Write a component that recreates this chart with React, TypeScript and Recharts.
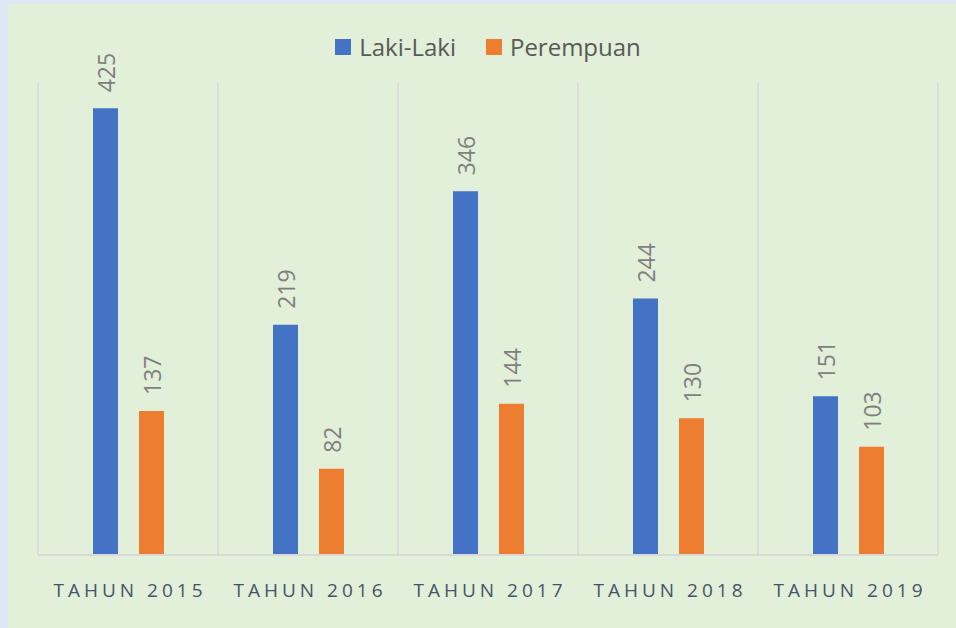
import { BarChart, Bar, XAxis, YAxis, CartesianGrid, LabelList } from 'recharts';

const categories = ['TAHUN 2015', 'TAHUN 2016', 'TAHUN 2017', 'TAHUN 2018', 'TAHUN 2019'];
const lakiLaki = [425, 219, 346, 244, 151];
const perempuan = [137, 82, 144, 130, 103];
const gridTicks = [0, 1, 2, 3, 4, 5];

const series = [
  { key: 'laki', name: 'Laki-Laki', color: '#4472c4' },
  { key: 'perempuan', name: 'Perempuan', color: '#ed7d31' },
];

const data = categories.map((name, i) => ({
  name,
  idx: i + 0.5,
  laki: lakiLaki[i],
  perempuan: perempuan[i],
}));

const FONT = '"Open Sans", "Noto Sans", sans-serif';

const RotatedLabel = (props: any) => {
  const { x, y, width, value } = props;
  return (
    <text
      x={0}
      y={0}
      transform={`translate(${x + width / 2}, ${y - 16}) rotate(-90)`}
      textAnchor="start"
      dominantBaseline="central"
      fill="#7f7f7f"
      fontSize={23}
      fontFamily={FONT}
    >
      {value}
    </text>
  );
};

const CategoryTick = (props: any) => {
  const { x, y, payload } = props;
  return (
    <text
      x={x + 2}
      y={y + 34}
      textAnchor="middle"
      fill="#44546a"
      fontSize={19}
      fontFamily={FONT}
      letterSpacing={4}
    >
      {payload.value}
    </text>
  );
};

export default function App() {
  return (
    <div style={{ position: 'fixed', left: 0, top: 0, width: 956, height: 628, background: '#dde8f4', overflow: 'hidden' }}>
      <div style={{ position: 'absolute', left: 8, top: 4, width: 948, height: 624, background: '#e2efd9' }}>
        {/* legend */}
        <div
          style={{
            position: 'absolute', top: 26, left: 0, width: 948,
            display: 'flex', justifyContent: 'center', gap: 30, fontFamily: FONT, paddingLeft: 12, boxSizing: 'border-box',
          }}
        >
          {series.map(s => (
            <div key={s.key} style={{ display: 'flex', alignItems: 'center', gap: 8 }}>
              <span style={{ width: 16, height: 16, background: s.color, display: 'inline-block' }} />
              <span style={{ fontSize: 24, color: '#595959' }}>{s.name}</span>
            </div>
          ))}
        </div>
        <BarChart
          width={948}
          height={624}
          data={data}
          margin={{ top: 78, right: 18, left: 30, bottom: 0 }}
          barSize={25}
          barGap={21}
        >
          <XAxis xAxisId="grid" dataKey="idx" type="number" domain={[0, 5]} ticks={gridTicks} hide />
          <CartesianGrid xAxisId="grid" horizontal={false} stroke="#d9d9d9" strokeWidth={1.5} />
          <XAxis
            dataKey="name"
            height={73}
            axisLine={{ stroke: '#d9d9d9', strokeWidth: 2 }}
            tickLine={false}
            tick={<CategoryTick />}
            interval={0}
          />
          <YAxis domain={[0, 450]} hide />
          {series.map(s => (
            <Bar key={s.key} dataKey={s.key} name={s.name} fill={s.color} isAnimationActive={false}>
              <LabelList dataKey={s.key} content={<RotatedLabel />} />
            </Bar>
          ))}
        </BarChart>
      </div>
    </div>
  );
}
